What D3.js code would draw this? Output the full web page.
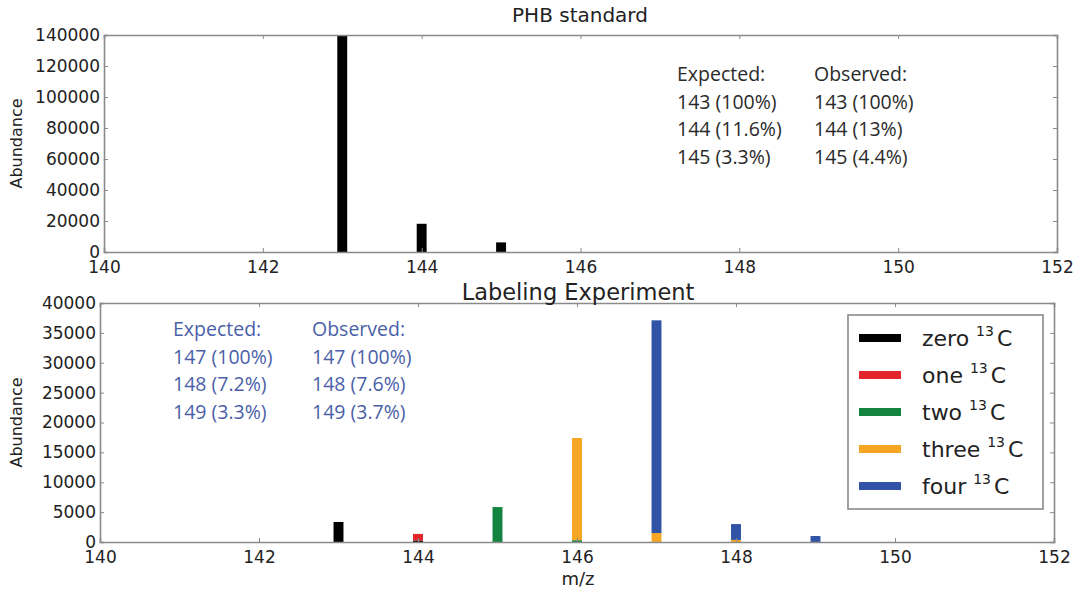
<!DOCTYPE html>
<html>
<head>
<meta charset="utf-8">
<script src="https://cdn.jsdelivr.net/npm/d3@7/dist/d3.min.js"></script>
<style>
  body { margin: 0; background: #fff; }
  svg text { font-family: "DejaVu Sans", sans-serif; fill: #222; }
  .note { font-family: "Open Sans", sans-serif; }
</style>
</head>
<body>
<div id="chart"></div>
<script>
// PHB standard spectrum
const topMz = [143, 144, 145];
const topAbundance = [140000, 18200, 6200];
const topExpected = ['Expected:', '143 (100%)', '144 (11.6%)', '145 (3.3%)'];
const topObserved = ['Observed:', '143 (100%)', '144 (13%)', '145 (4.4%)'];

// Labeling experiment, abundance per isotopologue at each m/z
const mz = [143, 144, 145, 146, 147, 148, 149];
const zero13C  = [3350, 250, 0, 0, 0, 0, 0];
const one13C   = [0, 1100, 0, 0, 0, 0, 0];
const two13C   = [0, 0, 5850, 300, 0, 0, 0];
const three13C = [0, 0, 0, 17100, 1500, 350, 0];
const four13C  = [0, 0, 0, 0, 35600, 2650, 1000];
const seriesNames = ['zero', 'one', 'two', 'three', 'four'];
const botExpected = ['Expected:', '147 (100%)', '148 (7.2%)', '149 (3.3%)'];
const botObserved = ['Observed:', '147 (100%)', '148 (7.6%)', '149 (3.7%)'];

const xTicks = [140, 142, 144, 146, 148, 150, 152];
const topYTicks = [0, 20000, 40000, 60000, 80000, 100000, 120000, 140000];
const botYTicks = [0, 5000, 10000, 15000, 20000, 25000, 30000, 35000, 40000];

const colors = ['#000000', '#e3262b', '#13843f', '#f6a623', '#3153a6'];
const barW = 0.125;

const svg = d3.select('#chart').append('svg')
  .attr('width', 1077).attr('height', 592);

// draws a frame with inward ticks on every side
function frame(x, y, yTicks, box) {
  const g = svg.append('g');
  const tick = 4;
  g.append('g').attr('transform', `translate(0,${box.bottom})`)
    .call(d3.axisBottom(x).tickValues(xTicks).tickSize(-tick).tickPadding(9).tickFormat(d3.format('d')));
  g.append('g').attr('transform', `translate(0,${box.top})`)
    .call(d3.axisTop(x).tickValues(xTicks).tickSize(-tick).tickFormat(''));
  g.append('g').attr('transform', `translate(${box.left},0)`)
    .call(d3.axisLeft(y).tickValues(yTicks).tickSize(-tick).tickPadding(4).tickFormat(d3.format('d')));
  g.append('g').attr('transform', `translate(${box.right},0)`)
    .call(d3.axisRight(y).tickValues(yTicks).tickSize(-tick).tickFormat(''));
  g.selectAll('.domain').attr('stroke', '#8a8a8a').attr('stroke-width', 1.6);
  g.selectAll('.tick line').attr('stroke', '#8a8a8a');
  g.selectAll('.tick text').attr('font-size', 17).attr('fill', '#222')
    .attr('font-family', '"DejaVu Sans", sans-serif');
  return g;
}

function notes(lines, xPos, yStart, color) {
  svg.append('g').selectAll('text').data(lines).enter().append('text')
    .attr('class', 'note')
    .attr('x', xPos).attr('y', (d, i) => yStart + i * 27.5)
    .attr('font-size', 19.5).style('fill', color)
    .text(d => d);
}

// ---- top panel
const b1 = { left: 104, right: 1057, top: 35, bottom: 252 };
const x1 = d3.scaleLinear().domain([140, 152]).range([b1.left, b1.right]);
const y1 = d3.scaleLinear().domain([0, 140000]).range([b1.bottom, b1.top]);

svg.append('g').selectAll('rect').data(topMz).enter().append('rect')
  .attr('x', d => x1(d - barW / 2))
  .attr('width', x1(140 + barW) - x1(140))
  .attr('y', (d, i) => y1(topAbundance[i]))
  .attr('height', (d, i) => y1(0) - y1(topAbundance[i]))
  .attr('fill', '#000');
frame(x1, y1, topYTicks, b1);

svg.append('text').attr('x', 580).attr('y', 22)
  .attr('text-anchor', 'middle').attr('font-size', 20).text('PHB standard');
svg.append('text').attr('transform', `translate(22,${(b1.top + b1.bottom) / 2}) rotate(-90)`)
  .attr('text-anchor', 'middle').attr('font-size', 16).text('Abundance');
notes(topExpected, 677, 81, '#2a2a2a');
notes(topObserved, 814, 81, '#2a2a2a');

// ---- bottom panel
const b2 = { left: 100, right: 1054, top: 303, bottom: 542 };
const x2 = d3.scaleLinear().domain([140, 152]).range([b2.left, b2.right]);
const y2 = d3.scaleLinear().domain([0, 40000]).range([b2.bottom, b2.top]);

const table = mz.map((m, i) => ({
  mz: m, zero: zero13C[i], one: one13C[i], two: two13C[i], three: three13C[i], four: four13C[i]
}));
const stacked = d3.stack().keys(seriesNames)(table);

svg.append('g').selectAll('g').data(stacked).enter().append('g')
  .attr('fill', (d, i) => colors[i])
  .selectAll('rect').data(d => d.filter(p => p[1] > p[0])).enter().append('rect')
  .attr('x', d => x2(d.data.mz - barW / 2))
  .attr('width', x2(140 + barW) - x2(140))
  .attr('y', d => y2(d[1]))
  .attr('height', d => y2(d[0]) - y2(d[1]));
frame(x2, y2, botYTicks, b2);

svg.append('text').attr('x', 578).attr('y', 300)
  .attr('text-anchor', 'middle').attr('font-size', 22.5).text('Labeling Experiment');
svg.append('text').attr('transform', `translate(22,${(b2.top + b2.bottom) / 2}) rotate(-90)`)
  .attr('text-anchor', 'middle').attr('font-size', 16).text('Abundance');
svg.append('text').attr('x', 578).attr('y', 585)
  .attr('text-anchor', 'middle').attr('font-size', 18).text('m/z');
notes(botExpected, 173, 336, '#4a5fa8');
notes(botObserved, 312, 336, '#4a5fa8');

// legend
const lg = svg.append('g').attr('transform', 'translate(848,315)');
lg.append('rect').attr('width', 195).attr('height', 194)
  .attr('fill', '#fff').attr('stroke', '#8a8a8a').attr('stroke-width', 1.6);
const row = lg.selectAll('g.row').data(seriesNames).enter().append('g')
  .attr('transform', (d, i) => `translate(0,${23 + i * 37})`);
row.append('line').attr('x1', 11).attr('x2', 53)
  .attr('stroke', (d, i) => colors[i]).attr('stroke-width', 8);
const lt = row.append('text').attr('x', 74).attr('y', 8).attr('font-size', 22);
lt.append('tspan').text(d => d + ' ');
lt.append('tspan').attr('font-size', 14).attr('dy', -10).text('13');
lt.append('tspan').attr('dy', 10).attr('dx', 3).text('C');
</script>
</body>
</html>
